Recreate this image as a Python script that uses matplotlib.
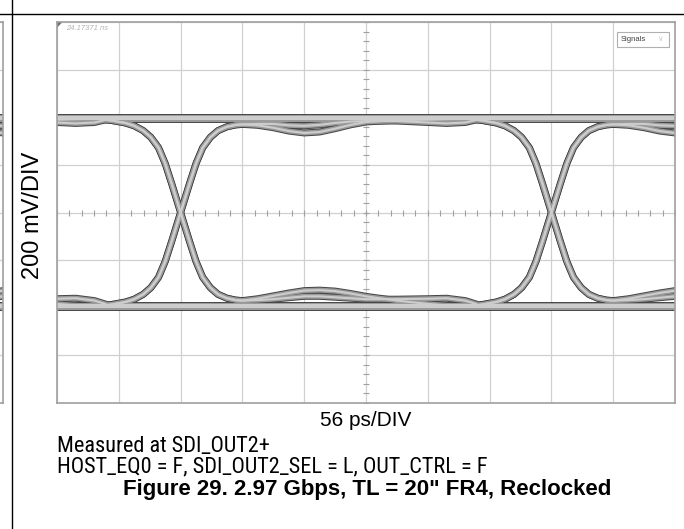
import numpy as np
import matplotlib.pyplot as plt
from matplotlib.lines import Line2D
from matplotlib.patches import Rectangle, Polygon

plt.rcParams['font.family'] = ['Liberation Sans', 'DejaVu Sans']

# scope scale
ps_per_div = 56
mv_per_div = 200
n_xdiv = 10
n_ydiv = 8

# data edges seen in the capture (ps), one UI apart
crossings_ps = [-224, 112, 448]

# rising edge around a crossing: offset (ps) and level (mV)
edge_t = [-73, -62, -50, -42, -34, -27, -20, -14, -8, 0, 8, 14, 20, 27, 34, 42, 50, 56]
edge_mv = [-392, -386, -376, -364, -344, -316, -272, -206, -120, 0,
           120, 206, 272, 316, 344, 360, 368, 370]

# settling after an edge (ps after crossing), two ISI variants per rail
settle_t = [56, 70, 84, 98, 112, 126, 140, 154, 168, 196, 224, 241, 258, 269]
top_deep_mv = [370, 366, 356, 342, 334, 338, 352, 368, 380, 388, 390, 392, 394, 394]
top_shallow_mv = [370, 372, 372, 366, 364, 368, 376, 382, 384, 384, 378, 374, 378, 390]
bot_deep_mv = [-370, -362, -350, -338, -328, -326, -330, -340, -352, -370, -384, -390, -392, -392]
bot_shallow_mv = [-370, -368, -364, -358, -352, -352, -356, -360, -364, -364, -362, -360, -370, -386]

# steady high / low levels (mV)
top_rail_mv = [399, 391]
bot_rail_mv = [-389, -397]

x_max = ps_per_div * n_xdiv
y_max = mv_per_div * n_ydiv / 2

# build all traces
traces = []
for c in crossings_ps:
    for sgn, settles in [(1, [top_deep_mv, top_shallow_mv]), (-1, [bot_deep_mv, bot_shallow_mv])]:
        for s in settles:
            t = np.concatenate([np.array(edge_t) + c, np.array(settle_t) + c])
            v = np.concatenate([sgn * np.array(edge_mv), s])
            traces.append((t, v))
for lvl in top_rail_mv + bot_rail_mv:
    traces.append(([0, x_max], [lvl, lvl]))

fig = plt.figure(figsize=(6.84, 5.29), dpi=100)


def setup_scope(ax):
    ax.set_xlim(0, x_max)
    ax.set_ylim(-y_max, y_max)
    ax.set_xticks(np.arange(0, x_max + 1, ps_per_div))
    ax.set_yticks(np.arange(-y_max, y_max + 1, mv_per_div))
    ax.grid(True, color='#d0d0d0', lw=0.9)
    ax.set_axisbelow(True)
    ax.tick_params(length=0, labelbottom=False, labelleft=False)
    for sp in ax.spines.values():
        sp.set_color('#a0a0a0')
        sp.set_linewidth(1.2)


def draw_traces(ax):
    # dark noisy edge, grey body, light core
    for lw, col in [(5.0, '#454545'), (3.6, '#999999'), (1.5, '#cdcdcd')]:
        for t, v in traces:
            ax.plot(t, v, color=col, lw=lw, solid_joinstyle='round', solid_capstyle='butt')


# neighbouring capture, only its right edge shows
ax0 = fig.add_axes([(3 - 618) / 684, 1 - 403 / 529, 618 / 684, 381 / 529])
setup_scope(ax0)
draw_traces(ax0)

ax = fig.add_axes([57 / 684, 1 - 403 / 529, 618 / 684, 381 / 529])
setup_scope(ax)

# minor ticks on the centre lines
xm = np.arange(0, x_max + 1, ps_per_div / 5)
ym = np.arange(-y_max, y_max + 1, mv_per_div / 5)
ax.plot(xm, np.zeros_like(xm), ls='none', marker='|', ms=4, mew=0.8, color='#a0a0a0')
ax.plot(np.full_like(ym, x_max / 2), ym, ls='none', marker='_', ms=4, mew=0.8, color='#a0a0a0')

draw_traces(ax)

# scope screen decorations
ax.add_patch(Polygon([[0, 1], [0.009, 1], [0, 0.985]], closed=True, transform=ax.transAxes,
                     color='#707070', lw=0, clip_on=False))
ax.text(0.014, 0.993, '24.17371 ns', transform=ax.transAxes, fontsize=5.5,
        style='italic', color='#b4b4b4', va='top', ha='left')
ax.add_patch(Rectangle((0.906, 0.935), 0.084, 0.039, transform=ax.transAxes,
                       fc='white', ec='#b0b0b0', lw=0.8, zorder=5))
ax.text(0.912, 0.954, 'Signals', transform=ax.transAxes, fontsize=5.5,
        color='#404040', va='center', ha='left', zorder=6)
ax.text(0.975, 0.954, '∨', transform=ax.transAxes, fontsize=5.5,
        color='#c8c8c8', va='center', ha='center', zorder=6)

# page rules
fig.add_artist(Line2D([0, 1], [1 - 14 / 529] * 2, transform=fig.transFigure, color='black', lw=1))
fig.add_artist(Line2D([12 / 684] * 2, [0, 1], transform=fig.transFigure, color='black', lw=1))

narrow = ['Roboto Condensed', 'Liberation Sans']
fig.text(33 / 684, 1 - 215 / 529, '200 mV/DIV', rotation=90, ha='center', va='center', fontsize=17)
fig.text(366 / 684, 1 - 420 / 529, '56 ps/DIV', ha='center', va='center', fontsize=15)
fig.text(57 / 684, 1 - 446 / 529, 'Measured at SDI_OUT2+', ha='left', va='center',
         fontsize=16, family=narrow)
fig.text(57 / 684, 1 - 467 / 529, 'HOST_EQ0 = F, SDI_OUT2_SEL = L, OUT_CTRL = F',
         ha='left', va='center', fontsize=16, family=narrow)
fig.text(367 / 684, 1 - 489 / 529, 'Figure 29. 2.97 Gbps, TL = 20" FR4, Reclocked',
         ha='center', va='center', fontsize=16, fontweight='bold')

plt.savefig('out.png', dpi=100)
plt.close()
